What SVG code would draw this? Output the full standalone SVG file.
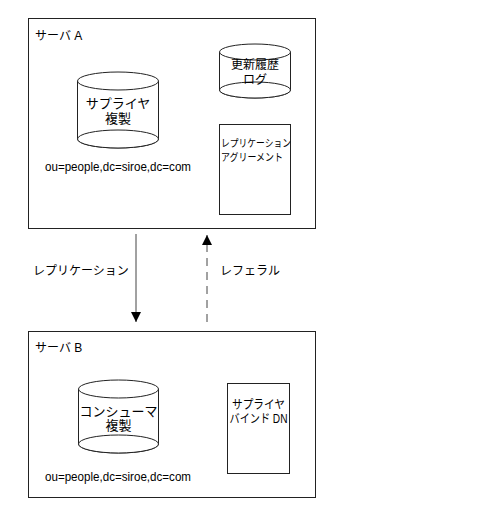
<svg xmlns="http://www.w3.org/2000/svg" width="488" height="524" viewBox="0 0 488 524">
<defs>
<style>
text{font-family:"Liberation Sans","Noto Sans CJK JP",sans-serif;fill:#000}
.box{fill:#fff;stroke:#222;stroke-width:1}
.shape{fill:#fff;stroke:#222;stroke-width:1}
.t12{font-size:12px}
.t13{font-size:13px}
.t11{font-size:10.5px}
.mid{text-anchor:middle}
.conn{stroke:#444;stroke-width:1;fill:none}
.dash{stroke-dasharray:8 6}
</style>
<marker id="ah" viewBox="0 0 10 10" refX="10" refY="5" markerWidth="10" markerHeight="14" markerUnits="userSpaceOnUse" orient="auto">
<path d="M0,0 L10,5 L0,10 Z" fill="#000"/>
</marker>
</defs>
<rect width="488" height="524" fill="#fff"/>

<g id="serverA">
<rect class="box" x="28.5" y="18.5" width="287" height="210"/>
<text class="t12" x="35" y="40">サーバ A</text>
</g>

<g id="supplierReplica">
<path class="shape" d="M77.5,81 L77.5,139 A40.5,9 0 0 0 158.5,139 L158.5,81"/>
<ellipse class="shape" cx="118" cy="139" rx="40.5" ry="9"/>
<ellipse class="shape" cx="118" cy="81" rx="40.5" ry="9"/>
<text class="t13 mid" x="118" y="108">サプライヤ</text>
<text class="t13 mid" x="118" y="123">複製</text>
<text class="t12" x="45" y="171" textLength="146" lengthAdjust="spacingAndGlyphs">ou=people,dc=siroe,dc=com</text>
</g>

<g id="changelog">
<path class="shape" d="M219.5,52 L219.5,90 A35.5,8 0 0 0 290.5,90 L290.5,52"/>
<ellipse class="shape" cx="255" cy="90" rx="35.5" ry="8"/>
<ellipse class="shape" cx="255" cy="52" rx="35.5" ry="8"/>
<text class="t12 mid" x="255" y="69">更新履歴</text>
<text class="t12 mid" x="255" y="84">ログ</text>
</g>

<g id="replicationAgreement">
<rect class="shape" x="219.5" y="124.5" width="71" height="90"/>
<text class="t11" x="221" y="147" textLength="70" lengthAdjust="spacingAndGlyphs">レプリケーション</text>
<text class="t11" x="221" y="161" textLength="62" lengthAdjust="spacingAndGlyphs">アグリーメント</text>
</g>

<g id="serverB">
<rect class="box" x="28.5" y="331.5" width="287" height="166"/>
<text class="t12" x="35" y="352">サーバ B</text>
</g>

<g id="consumerReplica">
<path class="shape" d="M78.5,389 L78.5,444 A40,9 0 0 0 158.5,444 L158.5,389"/>
<ellipse class="shape" cx="118.5" cy="444" rx="40" ry="9"/>
<ellipse class="shape" cx="118.5" cy="389" rx="40" ry="9"/>
<text class="t13 mid" x="118.5" y="416">コンシューマ</text>
<text class="t13 mid" x="118.5" y="430">複製</text>
<text class="t12" x="45" y="481" textLength="146" lengthAdjust="spacingAndGlyphs">ou=people,dc=siroe,dc=com</text>
</g>

<g id="supplierBindDN">
<rect class="shape" x="227.5" y="383.5" width="62" height="90"/>
<text class="t12" x="232" y="409" textLength="53" lengthAdjust="spacingAndGlyphs">サプライヤ</text>
<text class="t12" x="229.5" y="423" textLength="58" lengthAdjust="spacingAndGlyphs">バインド DN</text>
</g>

<g id="connectors">
<line class="conn" x1="136" y1="234" x2="136" y2="322" marker-end="url(#ah)"/>
<line class="conn dash" x1="207" y1="322" x2="207" y2="235" marker-end="url(#ah)"/>
<text class="t12" x="33" y="275">レプリケーション</text>
<text class="t12" x="220" y="275">レフェラル</text>
</g>
</svg>
